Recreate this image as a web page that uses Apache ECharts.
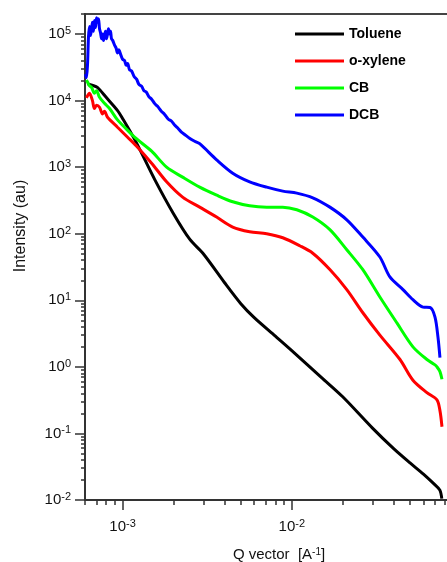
<!DOCTYPE html>
<html><head><meta charset="utf-8">
<script src="https://cdn.jsdelivr.net/npm/echarts@6/dist/echarts.min.js"></script>
<style>html,body{margin:0;padding:0;background:#fff}#c{width:447px;height:562px}</style>
</head><body><div id="c"></div>
<script>
const seriesNames = ['Toluene', 'o-xylene', 'CB', 'DCB'];
const seriesColors = ['#000000', '#ff0000', '#00ff00', '#0000ff'];

const tolueneQ = [6.2e-4, 6.6e-4, 7.1e-4, 8.0e-4, 9.3e-4, 1.0e-3, 1.2e-3, 1.55e-3, 2.0e-3, 2.5e-3, 3.0e-3, 4.0e-3, 5.0e-3, 6.0e-3, 8.0e-3, 1.0e-2, 1.5e-2, 2.0e-2, 3.0e-2, 4.0e-2, 5.0e-2, 6.0e-2, 7.0e-2, 7.5e-2, 7.7e-2];
const tolueneI = [18000, 17000, 15800, 11200, 7200, 5400, 2400, 650, 200, 82, 50, 18.5, 8.9, 5.5, 2.9, 1.76, 0.69, 0.355, 0.12, 0.059, 0.036, 0.0245, 0.017, 0.0141, 0.0105];

const oxyleneQ = [6.12e-4, 6.38e-4, 6.64e-4, 6.82e-4, 7.02e-4, 7.31e-4, 7.62e-4, 7.82e-4, 8.15e-4, 9.34e-4, 1.071e-3, 1.227e-3, 1.485e-3, 1.821e-3, 2.264e-3, 2.856e-3, 3.597e-3, 4.478e-3, 5.637e-3, 7.11e-3, 8.85e-3, 1.115e-2, 1.331e-2, 1.679e-2, 2.114e-2, 2.63e-2, 3.316e-2, 4.36e-2, 5.2e-2, 6.29e-2, 7.21e-2, 7.51e-2, 7.72e-2];
const oxyleneI = [10965, 12882, 10000, 7586, 8511, 7943, 6310, 6918, 5623, 3981, 2818, 1995, 1148, 603, 355, 251, 178, 126, 107, 100, 87, 66, 51, 29, 14.5, 6.5, 3.0, 1.29, 0.63, 0.41, 0.32, 0.22, 0.126];

const cbQ = [6.12e-4, 6.21e-4, 6.38e-4, 6.56e-4, 6.82e-4, 7.02e-4, 7.31e-4, 7.82e-4, 8.38e-4, 9.34e-4, 1.028e-3, 1.178e-3, 1.485e-3, 1.821e-3, 2.264e-3, 2.856e-3, 3.597e-3, 4.478e-3, 5.637e-3, 7.11e-3, 8.85e-3, 1.071e-2, 1.331e-2, 1.679e-2, 2.114e-2, 2.63e-2, 3.316e-2, 4.18e-2, 5.2e-2, 6.29e-2, 7.02e-2, 7.21e-2, 7.51e-2, 7.72e-2];
const cbI = [20400, 19000, 16600, 15800, 12900, 14100, 11200, 9100, 7600, 5130, 3980, 2820, 1740, 1000, 708, 501, 380, 302, 263, 251, 251, 229, 178, 115, 57.5, 28.8, 11.2, 4.57, 2.0, 1.29, 1.07, 1.0, 0.85, 0.65];

const dcbQ = [6.04e-4, 6.12e-4, 6.21e-4, 6.29e-4, 6.38e-4, 6.47e-4, 6.56e-4, 6.64e-4, 6.73e-4, 6.82e-4, 6.92e-4, 7.02e-4, 7.11e-4, 7.21e-4, 7.31e-4, 7.41e-4, 7.52e-4, 7.62e-4, 7.72e-4, 7.82e-4, 7.93e-4, 8.04e-4, 8.15e-4, 8.26e-4, 8.38e-4, 8.49e-4, 8.60e-4, 8.75e-4, 8.97e-4, 9.15e-4, 9.34e-4, 9.5e-4, 9.73e-4, 1.0e-3, 1.028e-3, 1.05e-3, 1.071e-3, 1.1e-3, 1.13e-3, 1.17e-3, 1.21e-3, 1.25e-3, 1.295e-3, 1.34e-3, 1.38e-3, 1.43e-3, 1.485e-3, 1.55e-3, 1.61e-3, 1.69e-3, 1.773e-3, 1.86e-3, 1.95e-3, 2.03e-3, 2.113e-3, 2.22e-3, 2.327e-3, 2.5e-3, 2.668e-3, 2.856e-3, 3.597e-3, 4.478e-3, 5.637e-3, 7.11e-3, 8.85e-3, 1.071e-2, 1.331e-2, 1.679e-2, 2.114e-2, 2.63e-2, 3.316e-2, 3.80e-2, 4.54e-2, 5.2e-2, 5.96e-2, 6.56e-2, 7.02e-2, 7.31e-2, 7.51e-2];
const dcbI = [25000, 22000, 35000, 90000, 130000, 95000, 120000, 150000, 110000, 160000, 125000, 175000, 150000, 170000, 120000, 105000, 85000, 100000, 80000, 95000, 110000, 85000, 100000, 120000, 100000, 110000, 85000, 80000, 68000, 62000, 52000, 58000, 50000, 42000, 40000, 34000, 36000, 29000, 28000, 23000, 21000, 17500, 16500, 14000, 13500, 11500, 10500, 9000, 8200, 7000, 6200, 5300, 4900, 4300, 3900, 3400, 3100, 2700, 2450, 2250, 1290, 813, 603, 501, 437, 407, 347, 251, 162, 89, 44.7, 22.4, 14.5, 10.2, 7.9, 7.8, 5.6, 2.8, 1.38];

const yMajorTicks = [0.01, 0.1, 1, 10, 100, 1000, 10000, 100000];
const xMajorTicks = [0.001, 0.01, 0.1];
const minorMultipliers = [2, 3, 4, 5, 6, 7, 8, 9];

const xTitle = 'Q vector  [A{s|-1}]';
const yTitle = 'Intensity (au)';

const qs = [tolueneQ, oxyleneQ, cbQ, dcbQ];
const is = [tolueneI, oxyleneI, cbI, dcbI];

function minorTicks(decades) {
  const out = [];
  decades.forEach(d => minorMultipliers.forEach(m => out.push(+(d * m).toPrecision(3))));
  return out;
}
const yMinorTicks = minorTicks([0.01, 0.1, 1, 10, 100, 1000, 10000, 100000]);
const xMinorTicks = minorTicks([0.0001, 0.001, 0.01]).filter(v => v >= 6e-4);

const FONT = "'Liberation Sans', Arial, sans-serif";
const supFmt = v => '{b|10}{s|' + Math.round(Math.log10(v)) + '}';
const labelRich = {
  b: { fontSize: 15, fontFamily: FONT, color: '#111' },
  s: { fontSize: 11, fontFamily: FONT, color: '#111', verticalAlign: 'top', padding: [0, 0, 6, 0] }
};
const axisColor = '#333';

const chart = echarts.init(document.getElementById('c'), null, { renderer: 'canvas' });
chart.setOption({
  animation: false,
  backgroundColor: '#fff',
  grid: { left: 85, right: -14, top: 14, bottom: 62, show: true, borderColor: '#444', borderWidth: 2, containLabel: false, outerBoundsMode: 'none' },
  legend: {
    orient: 'vertical', left: 290, top: 22, itemWidth: 49, itemHeight: 3, itemGap: 13, icon: 'rect',
    textStyle: { fontFamily: FONT, fontWeight: 'bold', fontSize: 14, color: '#000' },
    data: seriesNames
  },
  xAxis: [
    {
      type: 'log', logBase: 10, min: 6e-4, max: 0.1, position: 'bottom',
      axisLine: { show: true, lineStyle: { color: axisColor, width: 2 } },
      axisTick: { show: true, length: 10, customValues: xMajorTicks, lineStyle: { color: axisColor, width: 1.5 } },
      axisLabel: { customValues: xMajorTicks, formatter: supFmt, rich: labelRich, margin: 18 },
      splitLine: { show: false },
      name: xTitle, nameLocation: 'middle', nameGap: 47,
      nameTextStyle: { fontFamily: FONT, fontSize: 15, color: '#111', padding: [0, 0, 0, 12],
        rich: { s: { fontSize: 10, fontFamily: FONT, color: '#111', verticalAlign: 'top', padding: [0, 0, 6, 0] } } }
    },
    {
      type: 'log', logBase: 10, min: 6e-4, max: 0.1, position: 'bottom',
      axisLine: { show: false },
      axisTick: { show: true, length: 5, customValues: xMinorTicks, lineStyle: { color: axisColor, width: 1.5 } },
      axisLabel: { show: false },
      splitLine: { show: false }
    }
  ],
  yAxis: [
    {
      type: 'log', logBase: 10, min: 0.01, max: 2e5, position: 'left',
      axisLine: { show: true, lineStyle: { color: axisColor, width: 2 } },
      axisTick: { show: true, length: 10, customValues: yMajorTicks, lineStyle: { color: axisColor, width: 1.5 } },
      axisLabel: { customValues: yMajorTicks, formatter: supFmt, rich: labelRich, margin: 14 },
      splitLine: { show: false },
      name: yTitle, nameLocation: 'middle', nameGap: 56, nameRotate: 90,
      nameTextStyle: { fontFamily: FONT, fontSize: 16, color: '#111', padding: [0, 0, 0, 62] }
    },
    {
      type: 'log', logBase: 10, min: 0.01, max: 2e5, position: 'left',
      axisLine: { show: false },
      axisTick: { show: true, length: 4, customValues: yMinorTicks, lineStyle: { color: axisColor, width: 1.5 } },
      axisLabel: { show: false },
      splitLine: { show: false }
    }
  ],
  series: seriesNames.map((name, k) => ({
    name: name, type: 'line', xAxisIndex: 0, yAxisIndex: 0,
    showSymbol: false, symbol: 'none', clip: true, smooth: 0.3,
    itemStyle: { color: seriesColors[k] },
    lineStyle: { color: seriesColors[k], width: 3 },
    data: qs[k].map((q, i) => [q, is[k][i]])
  }))
});
</script></body></html>
